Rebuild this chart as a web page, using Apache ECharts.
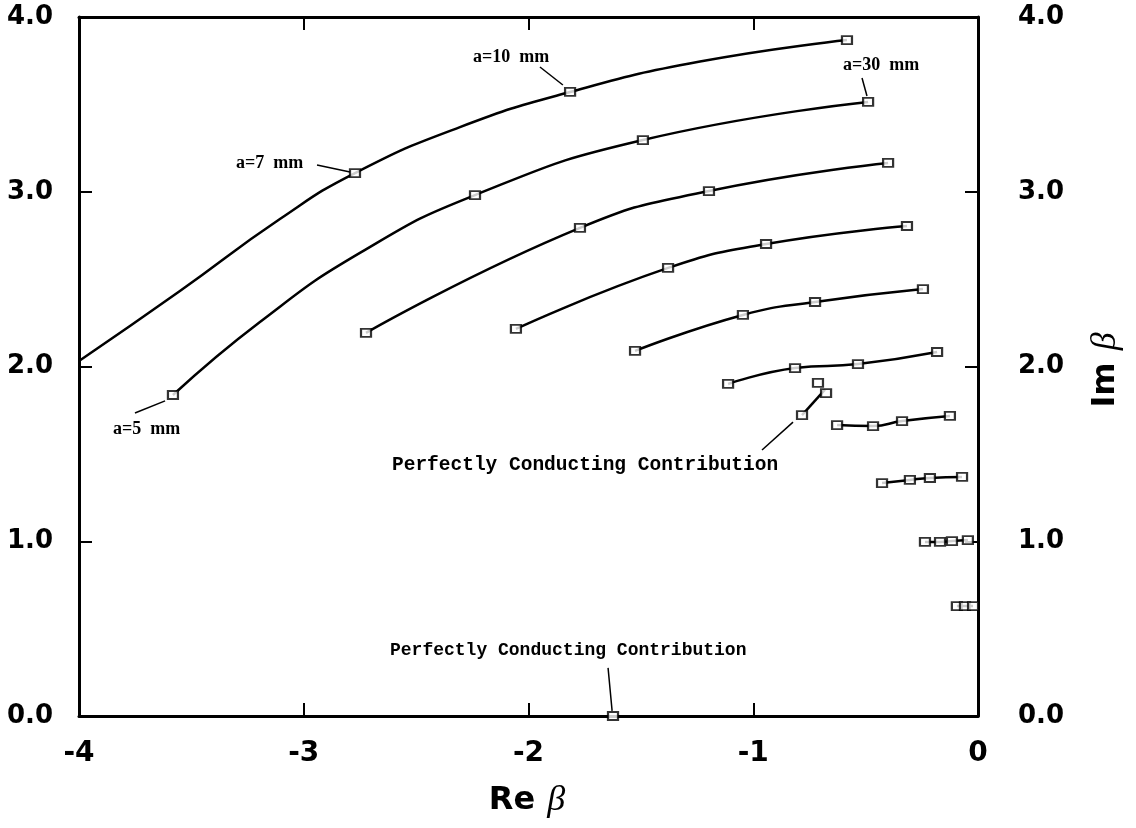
<!DOCTYPE html>
<html>
<head>
<meta charset="utf-8">
<script src="https://cdn.jsdelivr.net/npm/echarts@6/dist/echarts.min.js"></script>
<style>
  html, body { margin: 0; background: #fff; }
  #chart { width: 1136px; height: 828px; }
</style>
</head>
<body>
<div id="chart"></div>
<script>
// beta in the complex plane, one curve per mode (Re beta, Im beta)
const curve1 = [[-4, 2.031], [-3.551, 2.432], [-3.106, 2.844], [-2.772, 3.107], [-2.305, 3.37], [-1.815, 3.571], [-1.237, 3.745], [-0.583, 3.868]]
const marks1 = [[-2.772, 3.107], [-1.815, 3.571], [-0.583, 3.868]]
const curve2 = [[-3.582, 1.837], [-3.195, 2.255], [-2.75, 2.65], [-2.238, 2.981], [-1.491, 3.296], [-0.489, 3.514]]
const marks2 = [[-3.582, 1.837], [-2.238, 2.981], [-1.491, 3.296], [-0.489, 3.514]]
const curve3 = [[-2.723, 2.192], [-1.771, 2.793], [-1.197, 3.004], [-0.4, 3.165]]
const curve4 = [[-2.056, 2.215], [-1.379, 2.564], [-0.943, 2.701], [-0.316, 2.804]]
const curve5 = [[-1.526, 2.089], [-1.046, 2.295], [-0.725, 2.369], [-0.245, 2.443]]
const curve6 = [[-1.112, 1.9], [-0.814, 1.991], [-0.534, 2.014], [-0.182, 2.083]]
const curve7 = [[-0.627, 1.665], [-0.467, 1.659], [-0.338, 1.688], [-0.125, 1.717]]
const curve8 = [[-0.427, 1.333], [-0.303, 1.351], [-0.214, 1.362], [-0.071, 1.368]]
const curve9 = [[-0.236, 0.996], [-0.169, 0.996], [-0.116, 1.001], [-0.045, 1.007]]
const curve10 = [[-0.094, 0.629], [-0.058, 0.629], [-0.022, 0.629]]
// perfectly conducting contributions
const pcCurve = [[-0.783, 1.722], [-0.681, 1.868]]
const pcMarks = [[-0.783, 1.722], [-0.712, 1.906], [-0.676, 1.848]]
const pcBottom = [[-1.624, 0]]

const xTicks = [-4, -3, -2, -1, 0]
const yTicks = [0, 1, 2, 3, 4]

// annotation arrows, [from, to] in data units
const arrows = [
  [[-1.949, 3.714], [-1.847, 3.611]],
  [[-2.941, 3.153], [-2.794, 3.113]],
  [[-3.751, 1.734], [-3.617, 1.803]],
  [[-0.516, 3.651], [-0.494, 3.548]],
  [[-0.961, 1.522], [-0.823, 1.682]],
  [[-1.646, 0.275], [-1.628, 0.029]],
]

const lines = [curve1, curve2, curve3, curve4, curve5, curve6, curve7, curve8, curve9, curve10, pcCurve]
const markSets = [marks1, marks2, curve3, curve4, curve5, curve6, curve7, curve8, curve9, curve10, pcMarks, pcBottom]

const chart = echarts.init(document.getElementById('chart'))

const frameAxis = {
  type: 'value',
  axisLine: { onZero: false, lineStyle: { color: '#000', width: 3 } },
  axisTick: { inside: true, length: 13, lineStyle: { color: '#000', width: 2 } },
  splitLine: { show: false },
}
const tickFont = { color: '#000', fontFamily: 'DejaVu Sans', fontWeight: 'bold' }

const series = []
lines.forEach((data) => {
  series.push({
    type: 'line',
    data: data,
    smooth: 0.5,
    symbol: 'none',
    lineStyle: { color: '#000', width: 2.5 },
    z: 2,
  })
})
markSets.forEach((data) => {
  series.push({
    type: 'scatter',
    data: data,
    symbol: 'rect',
    symbolSize: [10, 8],
    itemStyle: { color: '#fff', borderColor: '#000', borderWidth: 2 },
    z: 3,
  })
})
series.push({
  type: 'scatter',
  data: [],
  markLine: {
    silent: true,
    symbol: ['none', 'arrow'],
    symbolSize: [0, 9],
    label: { show: false },
    lineStyle: { color: '#000', width: 1.5, type: 'solid' },
    data: arrows.map((a) => [{ coord: a[0] }, { coord: a[1] }]),
  },
})

const note = (text, x, y, font) => ({
  type: 'text',
  x: x,
  y: y,
  style: Object.assign({ text: text, fill: '#000', align: 'left', verticalAlign: 'middle' }, font),
})
const mmFont = { fontFamily: 'Liberation Serif', fontWeight: 'bold', fontSize: 18 }
const titleRich = {
  r: { fontFamily: 'DejaVu Sans', fontWeight: 'bold', fontSize: 32 },
  b: { fontFamily: 'Liberation Serif', fontStyle: 'italic', fontSize: 36, padding: [0, 0, 0, 12] },
}

chart.setOption({
  animation: false,
  backgroundColor: '#fff',
  grid: { left: 79, right: 158, top: 17, bottom: 112 },
  xAxis: [
    Object.assign({}, frameAxis, {
      min: xTicks[0], max: xTicks[xTicks.length - 1], interval: 1,
      axisLabel: Object.assign({ margin: 24, fontSize: 28 }, tickFont),
    }),
    Object.assign({}, frameAxis, {
      position: 'top', min: xTicks[0], max: xTicks[xTicks.length - 1], interval: 1,
      axisLabel: { show: false },
    }),
  ],
  yAxis: [
    Object.assign({}, frameAxis, {
      min: yTicks[0], max: yTicks[yTicks.length - 1], interval: 1,
      axisLabel: Object.assign({ margin: 26, fontSize: 26, formatter: (v) => v.toFixed(1) }, tickFont),
    }),
    Object.assign({}, frameAxis, {
      position: 'right', min: yTicks[0], max: yTicks[yTicks.length - 1], interval: 1,
      axisLabel: Object.assign({ margin: 40, fontSize: 26, formatter: (v) => v.toFixed(1) }, tickFont),
    }),
  ],
  series: series,
  graphic: [
    {
      type: 'text',
      x: 527,
      y: 801,
      style: { text: '{r|Re}{b|β}', align: 'center', verticalAlign: 'middle', fill: '#000', rich: titleRich },
    },
    {
      type: 'text',
      x: 1106,
      y: 370,
      rotation: Math.PI / 2,
      style: { text: '{r|Im}{b|β}', align: 'center', verticalAlign: 'middle', fill: '#000', rich: titleRich },
    },
    note('a=10  mm', 473, 57, mmFont),
    note('a=30  mm', 843, 65, mmFont),
    note('a=7  mm', 236, 163, mmFont),
    note('a=5  mm', 113, 429, mmFont),
    note('Perfectly Conducting Contribution', 392, 465, { fontFamily: 'Liberation Mono', fontWeight: 'bold', fontSize: 19.5 }),
    note('Perfectly Conducting Contribution', 390, 650, { fontFamily: 'Liberation Mono', fontWeight: 'bold', fontSize: 18 }),
  ],
})
</script>
</body>
</html>
